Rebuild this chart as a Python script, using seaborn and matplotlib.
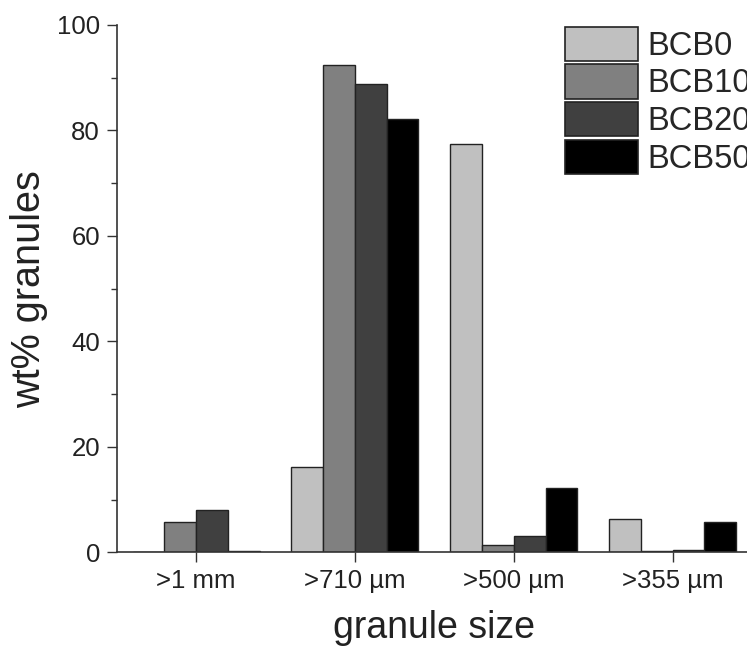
import matplotlib
matplotlib.use("Agg")
import matplotlib.pyplot as plt
import seaborn as sns
import pandas as pd
from matplotlib.ticker import MultipleLocator

categories = [">1 mm", ">710 µm", ">500 µm", ">355 µm"]
series = ["BCB0", "BCB10", "BCB20", "BCB50"]
bcb0 = [0.0, 16.2, 77.4, 6.3]
bcb10 = [5.75, 92.4, 1.3, 0.2]
bcb20 = [7.95, 88.9, 3.0, 0.5]
bcb50 = [0.3, 82.2, 12.1, 5.7]
colors = ["#c0c0c0", "#808080", "#404040", "#000000"]

rows = []
for name, vals in zip(series, [bcb0, bcb10, bcb20, bcb50]):
    for cat, v in zip(categories, vals):
        rows.append({"size": cat, "series": name, "value": v})
df = pd.DataFrame(rows)

sns.set_style("ticks")
plt.rcParams["font.family"] = ["Liberation Sans", "DejaVu Sans"]

fig = plt.figure(figsize=(7.47, 6.49), dpi=100)
ax = fig.add_axes([0.1562, 0.149, 1.0067 - 0.1562, 0.9615 - 0.149])

sns.barplot(data=df, x="size", y="value", hue="series", order=categories,
            hue_order=series, palette=colors, width=0.8, ax=ax,
            edgecolor="#222222", linewidth=1.0, saturation=1, errorbar=None)

ax.set_xlim(-0.5, 3.5)
ax.set_ylim(0, 100)
ax.yaxis.set_major_locator(MultipleLocator(20))
ax.yaxis.set_minor_locator(MultipleLocator(10))

for s in ["top", "right"]:
    ax.spines[s].set_visible(False)
for s in ["left", "bottom"]:
    ax.spines[s].set_color("#333333")
    ax.spines[s].set_linewidth(1.2)

ax.tick_params(axis="both", which="major", direction="out", length=7,
               width=1.0, color="#333333", labelsize=18.5, pad=5,
               labelcolor="#222222")
ax.tick_params(axis="y", which="minor", direction="out", length=4,
               width=1.0, color="#333333")

ax.set_xlabel("granule size", fontsize=27, labelpad=12, color="#222222")
ax.set_ylabel("wt% granules", fontsize=28.5, labelpad=6, color="#222222")

leg = ax.legend(loc="upper left", bbox_to_anchor=(0.7055, 0.997), frameon=False,
                fontsize=23.5, handlelength=2.23, handleheight=1.24,
                labelspacing=0.08, handletextpad=0.3, borderaxespad=0,
                borderpad=0)
for p in leg.get_patches():
    p.set_edgecolor("#222222")
    p.set_linewidth(1.2)

fig.savefig("out.png", dpi=100)
